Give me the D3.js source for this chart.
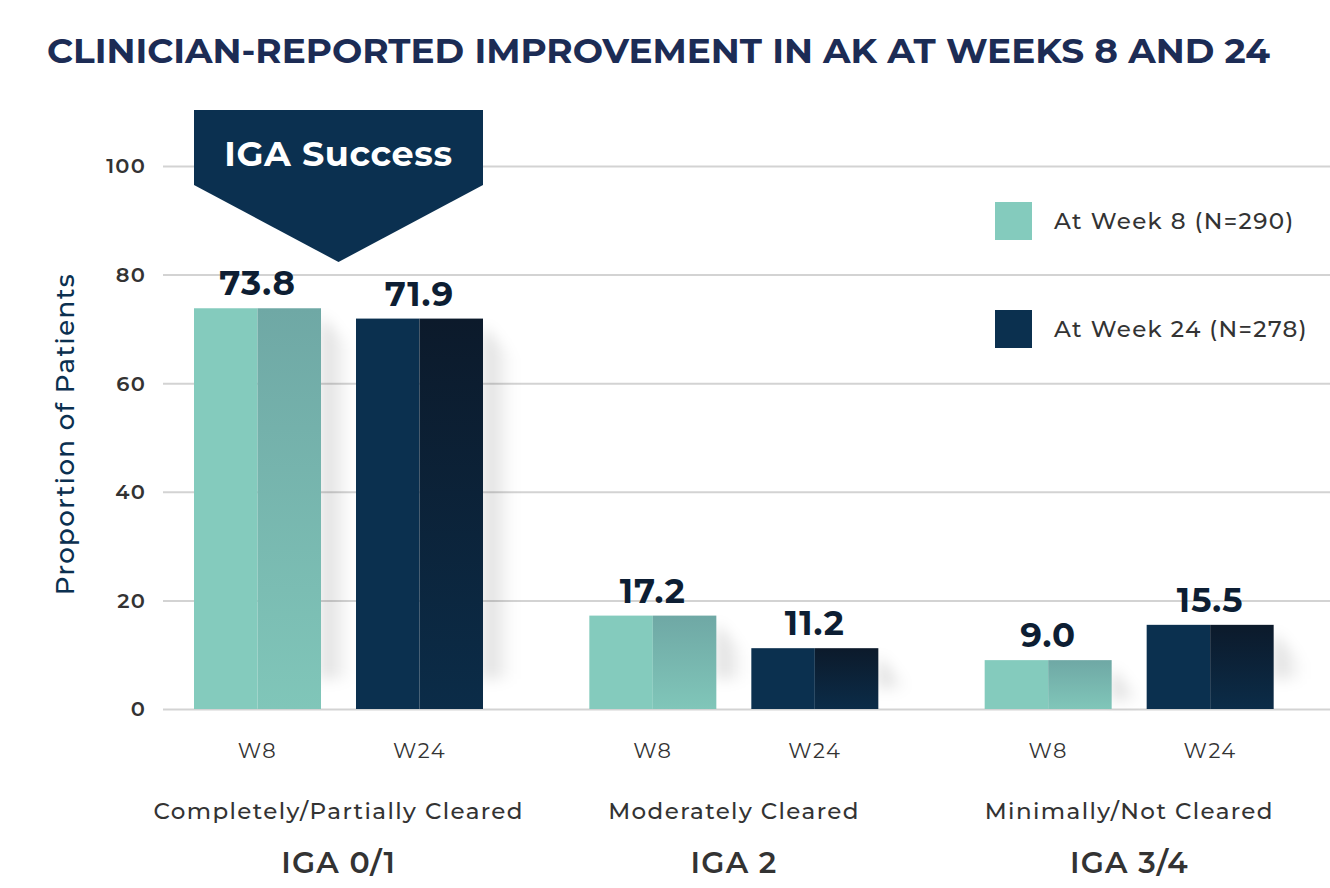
<!DOCTYPE html>
<html>
  <head>
    <meta charset="UTF-8" />
    <title>Clinician-Reported Improvement in AK</title>
    <script src="https://d3js.org/d3.v7.min.js"></script>
    <style>
      body {
        margin: 0;
        background: #fff;
      }
      svg text {
        font-family: Montserrat, 'Open Sans', 'Noto Sans', sans-serif;
      }
    </style>
  </head>

  <body>
    <div id="main"></div>
    <script type="text/javascript">
      const width = 1330;
      const height = 888;

      // data
      const categories = ['Completely/Partially Cleared', 'Moderately Cleared', 'Minimally/Not Cleared'];
      const igaLabels = ['IGA 0/1', 'IGA 2', 'IGA 3/4'];
      const series = ['W8', 'W24'];
      const week8 = [73.8, 17.2, 9.0];
      const week24 = [71.9, 11.2, 15.5];
      const legendLabels = ['At Week 8 (N=290)', 'At Week 24 (N=278)'];
      const yTicks = [0, 20, 40, 60, 80, 100];

      const colors = {
        W8: { left: '#84cbbd', rightTop: '#6fa8a5', rightBottom: '#80c6b9' },
        W24: { left: '#0b304f', rightTop: '#0c1a2b', rightBottom: '#0b2c48' }
      };

      const svg = d3
        .select('div#main')
        .append('svg')
        .attr('width', width)
        .attr('height', height);

      const defs = svg.append('defs');

      series.forEach((s) => {
        const g = defs
          .append('linearGradient')
          .attr('id', 'grad-' + s)
          .attr('x1', 0)
          .attr('y1', 0)
          .attr('x2', 0)
          .attr('y2', 1);
        g.append('stop').attr('offset', '0%').attr('stop-color', colors[s].rightTop);
        g.append('stop').attr('offset', '100%').attr('stop-color', colors[s].rightBottom);
      });

      const shadowGrad = defs
        .append('linearGradient')
        .attr('id', 'shadow-grad')
        .attr('x1', 0)
        .attr('y1', 0)
        .attr('x2', 1)
        .attr('y2', 0);
      shadowGrad.append('stop').attr('offset', '0%').attr('stop-color', '#000').attr('stop-opacity', 0.15);
      shadowGrad.append('stop').attr('offset', '100%').attr('stop-color', '#000').attr('stop-opacity', 0);

      defs
        .append('filter')
        .attr('id', 'blur')
        .attr('x', '-50%')
        .attr('y', '-50%')
        .attr('width', '200%')
        .attr('height', '200%')
        .append('feGaussianBlur')
        .attr('stdDeviation', 7);

      // scales
      const y = d3.scaleLinear().domain([0, 100]).range([709, 166]);
      const x0 = d3.scaleBand().domain(categories).range([141, 1327]);
      const x1 = d3.scaleBand().domain(series).range([53, 342]).paddingInner(0.216);

      // title
      svg
        .append('text')
        .attr('x', 47)
        .attr('y', 63)
        .attr('textLength', 1223)
        .attr('lengthAdjust', 'spacingAndGlyphs')
        .attr('fill', '#1c2c55')
        .attr('font-size', 35)
        .attr('font-weight', 700)
        .text('CLINICIAN-REPORTED IMPROVEMENT IN AK AT WEEKS 8 AND 24');

      // grid + y ticks
      const yAxis = svg
        .append('g')
        .attr('transform', 'translate(163,0)')
        .call(d3.axisRight(y).tickValues(yTicks).tickSize(width - 163).tickFormat(''));
      yAxis.select('.domain').remove();
      yAxis.selectAll('.tick line').attr('stroke', '#d3d3d3').attr('stroke-width', 2);

      svg
        .append('g')
        .selectAll('text')
        .data(yTicks)
        .join('text')
        .attr('x', 146)
        .attr('y', (d) => y(d))
        .attr('dy', '0.35em')
        .attr('text-anchor', 'end')
        .attr('fill', '#333')
        .attr('font-size', 21)
        .attr('font-weight', 600)
        .attr('letter-spacing', 1.2)
        .text((d) => d);

      svg
        .append('text')
        .attr('transform', 'translate(74,434) rotate(-90)')
        .attr('text-anchor', 'middle')
        .attr('fill', '#0b3050')
        .attr('font-size', 26)
        .attr('font-weight', 500)
        .attr('letter-spacing', 1.4)
        .text('Proportion of Patients');

      // bars
      const rows = categories.map((c, i) => ({
        cat: c,
        iga: igaLabels[i],
        values: [
          { s: 'W8', v: week8[i] },
          { s: 'W24', v: week24[i] }
        ]
      }));

      const groups = svg
        .append('g')
        .selectAll('g')
        .data(rows)
        .join('g')
        .attr('transform', (d) => `translate(${x0(d.cat)},0)`);

      const bars = groups
        .selectAll('g.bar')
        .data((d) => d.values)
        .join('g')
        .attr('class', 'bar');

      const bw = x1.bandwidth();

      // soft shadow to the right of each bar
      bars
        .append('path')
        .attr('d', (d) => {
          const xr = x1(d.s) + bw;
          const top = y(d.v);
          const bot = Math.max(top + 40, y(0) - 30);
          return `M${xr},${top + 8} L${xr + 30},${top + 40} L${xr + 30},${bot} L${xr},${bot} Z`;
        })
        .attr('fill', 'url(#shadow-grad)')
        .attr('filter', 'url(#blur)');

      bars
        .append('rect')
        .attr('x', (d) => x1(d.s))
        .attr('y', (d) => y(d.v))
        .attr('width', bw / 2)
        .attr('height', (d) => y(0) - y(d.v))
        .attr('fill', (d) => colors[d.s].left);

      bars
        .append('rect')
        .attr('x', (d) => x1(d.s) + bw / 2)
        .attr('y', (d) => y(d.v))
        .attr('width', bw / 2)
        .attr('height', (d) => y(0) - y(d.v))
        .attr('fill', (d) => `url(#grad-${d.s})`);

      bars
        .append('text')
        .attr('x', (d) => x1(d.s) + bw / 2)
        .attr('y', (d) => y(d.v) - 13)
        .attr('text-anchor', 'middle')
        .attr('fill', '#0d1e33')
        .attr('font-size', 34)
        .attr('font-weight', 700)
        .attr('letter-spacing', 1)
        .text((d) => d.v.toFixed(1));

      bars
        .append('text')
        .attr('x', (d) => x1(d.s) + bw / 2)
        .attr('y', 758)
        .attr('text-anchor', 'middle')
        .attr('fill', '#333')
        .attr('font-size', 21)
        .attr('letter-spacing', 1.5)
        .text((d) => d.s);

      groups
        .append('text')
        .attr('x', x0.bandwidth() / 2)
        .attr('y', 819)
        .attr('text-anchor', 'middle')
        .attr('fill', '#333')
        .attr('font-size', 23)
        .attr('font-weight', 500)
        .attr('letter-spacing', 1.4)
        .text((d) => d.cat);

      groups
        .append('text')
        .attr('x', x0.bandwidth() / 2)
        .attr('y', 873)
        .attr('text-anchor', 'middle')
        .attr('fill', '#333')
        .attr('font-size', 30)
        .attr('font-weight', 600)
        .attr('letter-spacing', 1.2)
        .text((d) => d.iga);

      // IGA Success banner over the first group
      const bx0 = x0(categories[0]) + x1('W8');
      const bx1 = x0(categories[0]) + x1('W24') + bw;
      const bmid = (bx0 + bx1) / 2;
      svg
        .append('path')
        .attr('d', `M${bx0},110 L${bx1},110 L${bx1},185 L${bmid},262 L${bx0},185 Z`)
        .attr('fill', '#0b3050');
      svg
        .append('text')
        .attr('x', bmid)
        .attr('y', 166)
        .attr('text-anchor', 'middle')
        .attr('fill', '#fff')
        .attr('font-size', 35)
        .attr('font-weight', 700)
        .attr('letter-spacing', 0.6)
        .text('IGA Success');

      // legend
      const legend = svg
        .append('g')
        .selectAll('g')
        .data(series)
        .join('g')
        .attr('transform', (d, i) => `translate(995,${202 + i * 108})`);
      legend
        .append('rect')
        .attr('width', 37)
        .attr('height', 38)
        .attr('fill', (d) => colors[d].left);
      legend
        .append('text')
        .attr('x', 59)
        .attr('y', 19)
        .attr('dy', '0.35em')
        .attr('fill', '#333')
        .attr('font-size', 23)
        .attr('font-weight', 500)
        .attr('letter-spacing', 1.4)
        .text((d, i) => legendLabels[i]);
    </script>
  </body>
</html>
